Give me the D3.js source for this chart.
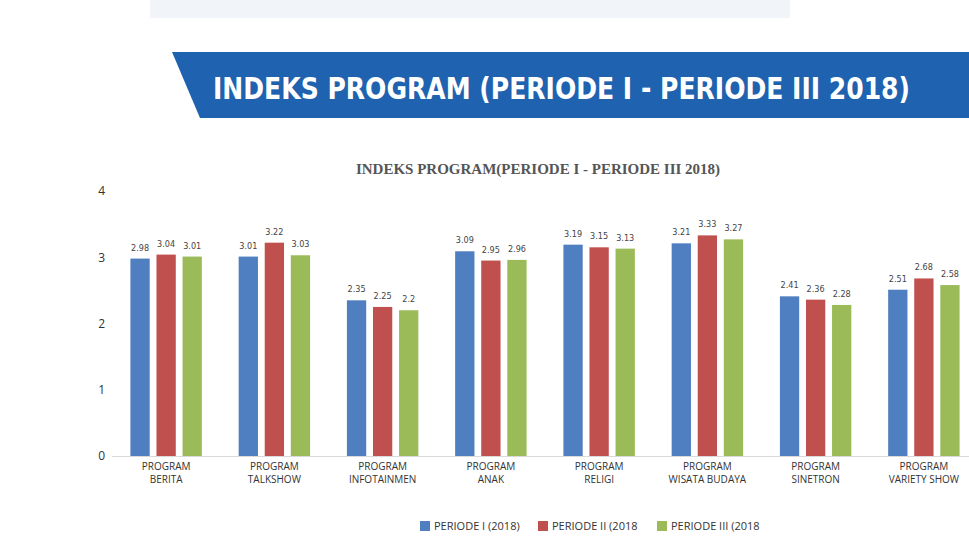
<!DOCTYPE html>
<html>
<head>
<meta charset="utf-8">
<script src="https://cdn.jsdelivr.net/npm/d3@7"></script>
<style>
  body { margin: 0; background: #fff; }
  svg { display: block; }
</style>
</head>
<body>
<div id="chart"></div>
<script>
var categories = ["PROGRAM|BERITA", "PROGRAM|TALKSHOW", "PROGRAM|INFOTAINMEN", "PROGRAM|ANAK",
                  "PROGRAM|RELIGI", "PROGRAM|WISATA BUDAYA", "PROGRAM|SINETRON", "PROGRAM|VARIETY SHOW"];
var periode1 = [2.98, 3.01, 2.35, 3.09, 3.19, 3.21, 2.41, 2.51];
var periode2 = [3.04, 3.22, 2.25, 2.95, 3.15, 3.33, 2.36, 2.68];
var periode3 = [3.01, 3.03, 2.2, 2.96, 3.13, 3.27, 2.28, 2.58];
var seriesNames = ["PERIODE I (2018)", "PERIODE II (2018", "PERIODE III (2018"];
var yTicks = [0, 1, 2, 3, 4];

var colors = ["#4f7fc0", "#c0504d", "#9bbb59"];

var W = 969, H = 538;
var svg = d3.select("#chart").append("svg")
    .attr("width", W).attr("height", H);

// faint watermark band at top
svg.append("rect")
    .attr("x", 150).attr("y", 0).attr("width", 640).attr("height", 18)
    .style("fill", "#f1f4f8");

// banner
svg.append("path")
    .attr("d", "M172,52 L969,52 L969,118 L200,118 Z")
    .style("fill", "#1f62b0");
svg.append("text")
    .attr("x", 213).attr("y", 99)
    .attr("textLength", 697)
    .attr("lengthAdjust", "spacingAndGlyphs")
    .style("font-family", "DejaVu Sans Condensed, DejaVu Sans")
    .style("font-weight", "bold")
    .style("font-size", "30px")
    .style("fill", "#fff")
    .text("INDEKS PROGRAM (PERIODE I - PERIODE III 2018)");

// chart title
svg.append("text")
    .attr("x", 538).attr("y", 174)
    .attr("text-anchor", "middle")
    .style("font-family", "Liberation Serif, serif")
    .style("font-weight", "bold")
    .style("font-size", "15px")
    .style("fill", "#555")
    .text("INDEKS PROGRAM(PERIODE I - PERIODE III 2018)");

var plotLeft = 112, plotRight = 978, plotTop = 191, plotBottom = 456;

var x0 = d3.scaleBand().domain(categories).range([plotLeft, plotRight]).paddingInner(0.34).paddingOuter(0.17);
var x1 = d3.scaleBand().domain([0, 1, 2]).range([0, x0.bandwidth()]).paddingInner(0.26);
var y = d3.scaleLinear().domain([0, 4]).range([plotBottom, plotTop]);

// y axis labels
var yAxis = svg.append("g")
    .attr("transform", "translate(" + (plotLeft - 7) + ",0)")
    .call(d3.axisLeft(y).tickValues(yTicks).tickSize(0).tickPadding(0).tickFormat(d3.format("d")));
yAxis.select(".domain").remove();
yAxis.selectAll("text")
    .style("font-family", "Open Sans, sans-serif")
    .style("font-size", "12px")
    .style("fill", "#333");

// baseline
svg.append("line")
    .attr("x1", plotLeft).attr("x2", W)
    .attr("y1", plotBottom + 0.5).attr("y2", plotBottom + 0.5)
    .style("stroke", "#d9d9d9");

var series = [periode1, periode2, periode3];
var rows = categories.map(function(c, i) {
    return series.map(function(s, k) { return {cat: c, k: k, v: s[i]}; });
});

var groups = svg.selectAll(".grp")
    .data(rows)
    .enter().append("g")
    .attr("class", "grp")
    .attr("transform", function(d, i) { return "translate(" + x0(categories[i]) + ",0)"; });

groups.selectAll("rect")
    .data(function(d) { return d; })
    .enter().append("rect")
    .attr("x", function(d) { return x1(d.k); })
    .attr("y", function(d) { return y(d.v); })
    .attr("width", x1.bandwidth())
    .attr("height", function(d) { return plotBottom - y(d.v); })
    .style("fill", function(d) { return colors[d.k]; });

groups.selectAll(".val")
    .data(function(d) { return d; })
    .enter().append("text")
    .attr("class", "val")
    .attr("x", function(d) { return x1(d.k) + x1.bandwidth() / 2; })
    .attr("y", function(d) { return y(d.v) - 8; })
    .attr("text-anchor", "middle")
    .style("font-family", "DejaVu Sans Condensed, DejaVu Sans")
    .style("font-size", "9px")
    .style("fill", "#444")
    .text(function(d) { return d.v; });

// x labels, two lines each
[0, 1].forEach(function(j) {
    svg.selectAll(".xl" + j)
        .data(categories)
        .enter().append("text")
        .attr("class", "xl" + j)
        .attr("x", function(d) { return x0(d) + x0.bandwidth() / 2; })
        .attr("y", 470 + j * 13)
        .attr("text-anchor", "middle")
        .style("font-family", "Open Sans, sans-serif")
        .style("font-size", "10px")
        .style("fill", "#333")
        .text(function(d) { return d.split("|")[j]; });
});

// legend
var legX = [420, 538, 657];
var leg = svg.selectAll(".leg")
    .data(seriesNames)
    .enter().append("g")
    .attr("class", "leg")
    .attr("transform", function(d, i) { return "translate(" + legX[i] + ",521)"; });
leg.append("rect")
    .attr("width", 10).attr("height", 10)
    .style("fill", function(d, i) { return colors[i]; });
leg.append("text")
    .attr("x", 14).attr("y", 9)
    .style("font-family", "Open Sans, sans-serif")
    .style("font-size", "11px")
    .style("fill", "#333")
    .text(function(d) { return d; });
</script>
</body>
</html>
